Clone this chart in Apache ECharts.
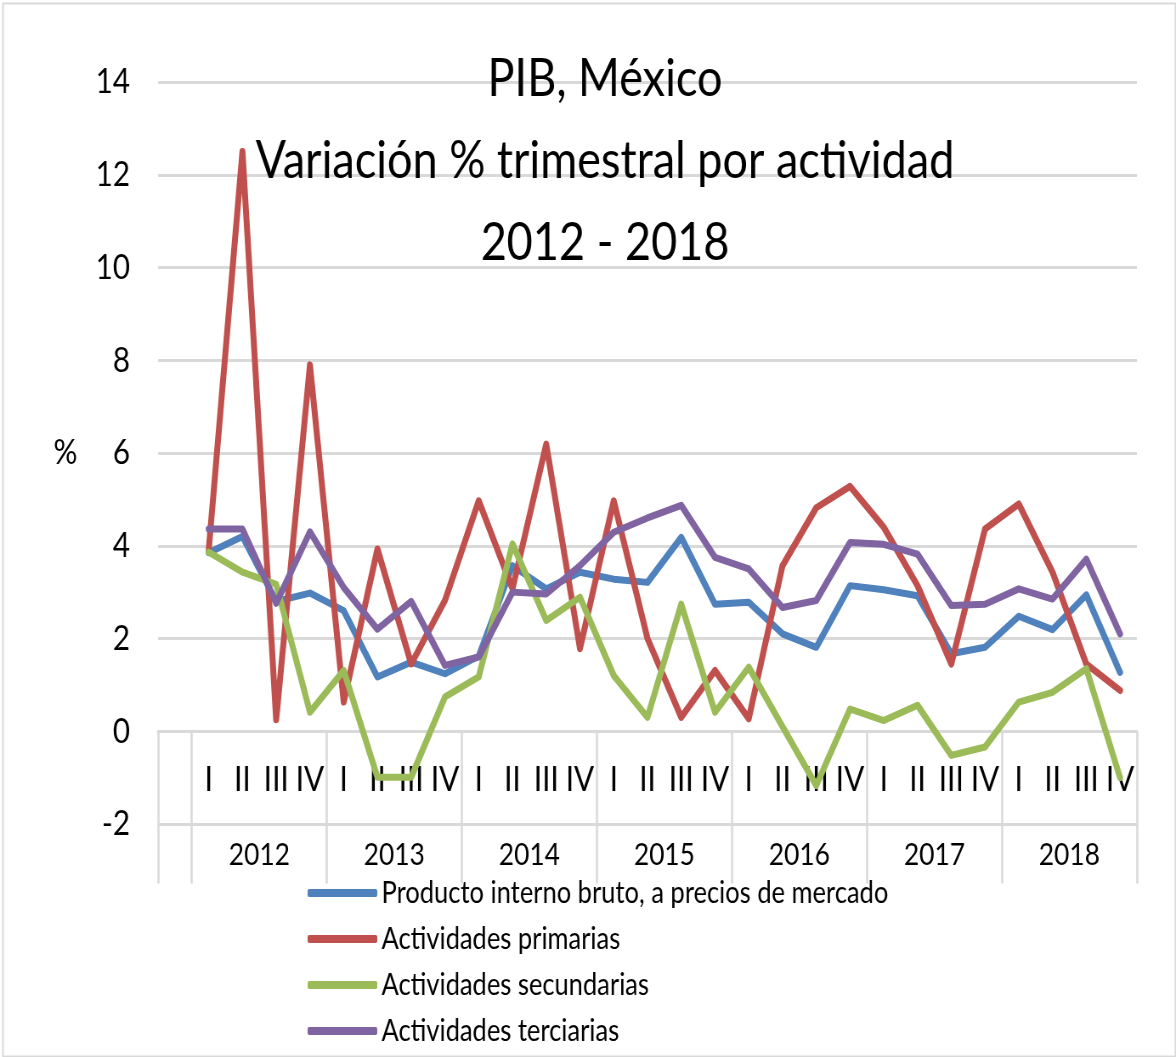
<!DOCTYPE html>
<html>
<head>
<meta charset="utf-8">
<script src="https://cdn.jsdelivr.net/npm/echarts@6/dist/echarts.min.js"></script>
<style>
  html, body { margin: 0; padding: 0; overflow: hidden; background: #fff; }
  /* the source chart was squeezed sideways, so draw wider and squeeze back */
  #chart { width: 1384px; height: 1057px; transform: scaleX(0.8497); transform-origin: 0 0; }
</style>
</head>
<body>
<div id="chart"></div>
<script>
const quarterNames = ["I", "II", "III", "IV"];
const years = ["2012", "2013", "2014", "2015", "2016", "2017", "2018"];
const yearCenters = [3, 7, 11, 15, 19, 23, 27];

const pib = [3.85, 4.2, 2.8, 2.98, 2.6, 1.17, 1.49, 1.24, 1.62, 3.57, 3.07, 3.43, 3.28, 3.21,
  4.18, 2.74, 2.78, 2.1, 1.81, 3.14, 3.05, 2.92, 1.67, 1.81, 2.48, 2.19, 2.94, 1.27];
const primarias = [3.9, 12.5, 0.25, 7.9, 0.63, 3.93, 1.45, 2.82, 4.97, 3.07, 6.19, 1.78, 4.97, 2.0,
  0.3, 1.31, 0.27, 3.57, 4.82, 5.28, 4.4, 3.14, 1.45, 4.36, 4.9, 3.43, 1.45, 0.88];
const secundarias = [3.86, 3.43, 3.17, 0.41, 1.31, -0.99, -0.99, 0.74, 1.17, 4.04, 2.39, 2.89, 1.2, 0.3,
  2.74, 0.41, 1.38, 0.1, -1.17, 0.48, 0.23, 0.56, -0.52, -0.34, 0.63, 0.84, 1.35, -1.0];
const terciarias = [4.36, 4.36, 2.76, 4.3, 3.1, 2.2, 2.8, 1.42, 1.6, 3.0, 2.96, 3.57, 4.29, 4.6,
  4.87, 3.75, 3.5, 2.67, 2.82, 4.07, 4.03, 3.82, 2.71, 2.74, 3.07, 2.85, 3.71, 2.1];

const seriesNames = [
  "Producto interno bruto, a precios de mercado",
  "Actividades primarias",
  "Actividades secundarias",
  "Actividades terciarias",
];
const colors = ["#4f81bd", "#c0504d", "#9bbb59", "#8064a2"];

// first category is an empty column, like in the original sheet
const categories = [""];
years.forEach(() => quarterNames.forEach((q) => categories.push(q)));

const font = "Lato";
const gridGray = "#d9d9d9";

const chart = echarts.init(document.getElementById("chart"));

const makeSeries = (name, values, color) => ({
  name: name,
  type: "line",
  data: [null].concat(values),
  symbol: "none",
  color: color,
  lineStyle: { width: 7, color: color, join: "round", cap: "round" },
});

const option = {
  animation: false,
  title: {
    text: "PIB, México\nVariación % trimestral por actividad\n2012 - 2018",
    left: 712,
    top: 38,
    padding: 0,
    textAlign: "center",
    textStyle: {
      fontFamily: font,
      fontSize: 53,
      fontWeight: "normal",
      lineHeight: 82,
      color: "#000",
    },
  },
  // chart area frame
  graphic: [
    {
      type: "rect",
      left: 1,
      top: 1,
      shape: { width: 1380, height: 1053 },
      style: { fill: null, stroke: gridGray, lineWidth: 2 },
      silent: true,
    },
  ],
  legend: {
    orient: "vertical",
    left: 362,
    top: 873,
    padding: 0,
    itemGap: 6,
    itemWidth: 82,
    itemHeight: 8,
    icon: "roundRect",
    data: seriesNames,
    textStyle: { fontFamily: font, fontSize: 30, lineHeight: 40, color: "#000" },
  },
  grid: { left: 186, right: 46, top: 82, bottom: 233, containLabel: false },
  xAxis: [
    {
      // quarter row, its line sits on the 0 value (one grid step above the bottom)
      type: "category",
      data: categories,
      boundaryGap: true,
      position: "bottom",
      offset: -92.5,
      axisLine: { onZero: false, lineStyle: { color: gridGray, width: 3 } },
      axisTick: {
        show: true,
        length: 152,
        interval: (idx) => idx === 0 || idx % 4 === 1,
        lineStyle: { color: gridGray, width: 2.5 },
      },
      axisLabel: {
        interval: 0,
        margin: 31,
        fontFamily: font,
        fontSize: 35,
        color: "#000",
      },
      splitLine: { show: false },
    },
    {
      // year row
      type: "value",
      min: 0,
      max: 29,
      position: "bottom",
      axisLine: { show: false, onZero: false },
      axisTick: { show: false },
      splitLine: { show: false },
      axisLabel: {
        customValues: yearCenters,
        margin: 15,
        fontFamily: font,
        fontSize: 31,
        color: "#000",
        formatter: (v) => years[yearCenters.indexOf(v)] || "",
      },
    },
  ],
  yAxis: {
    type: "value",
    min: -2,
    max: 14,
    interval: 2,
    name: "%",
    nameLocation: "middle",
    nameRotate: 0,
    nameGap: 95,
    nameTextStyle: { fontFamily: font, fontSize: 35, color: "#000", padding: [20, 0, 0, 0] },
    axisLine: { show: false },
    axisTick: { show: false },
    axisLabel: { margin: 33, fontFamily: font, fontSize: 35, color: "#000" },
    splitLine: { lineStyle: { color: gridGray, width: 3 } },
  },
  series: [
    makeSeries(seriesNames[0], pib, colors[0]),
    makeSeries(seriesNames[1], primarias, colors[1]),
    makeSeries(seriesNames[2], secundarias, colors[2]),
    makeSeries(seriesNames[3], terciarias, colors[3]),
  ],
};

chart.setOption(option);
</script>
</body>
</html>
